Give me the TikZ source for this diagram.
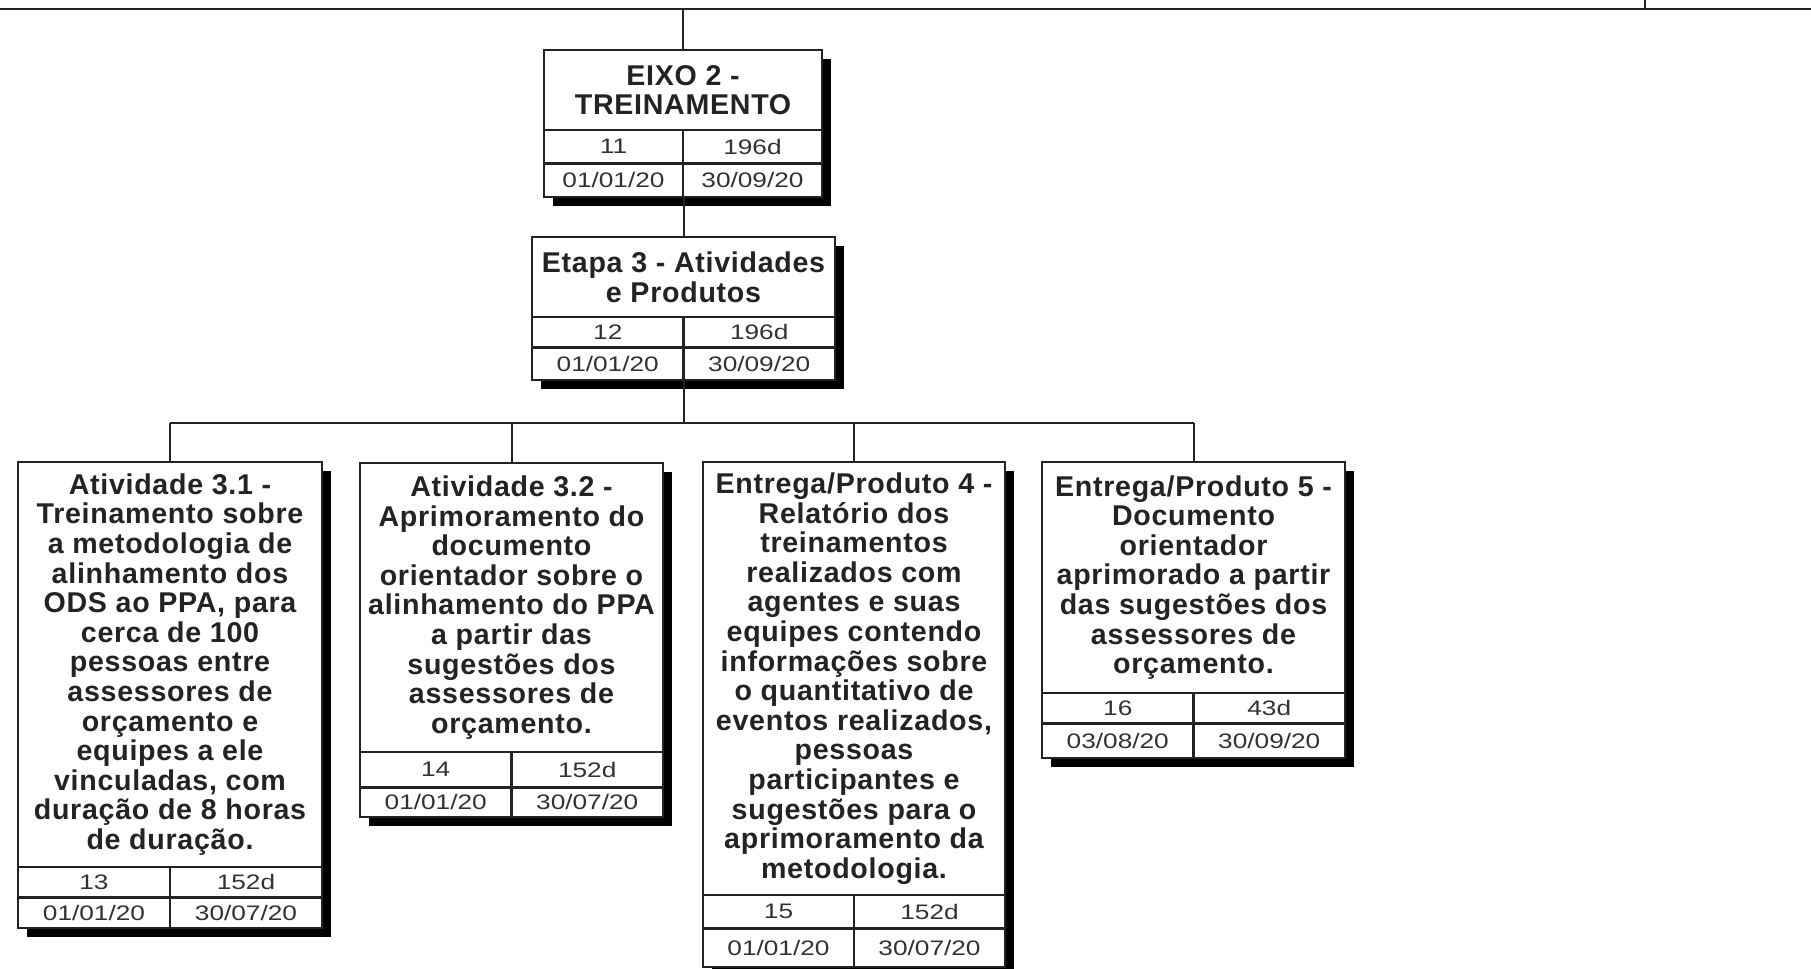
\documentclass[tikz,border=0pt]{standalone}
\usepackage{fontspec}
\setmainfont{Liberation Sans}
\newfontfamily\titlefont[LetterSpace=2.5]{Liberation Sans}
\newfontfamily\rowfont[FakeStretch=1.25]{Liberation Sans}
\definecolor{ink}{RGB}{35,35,35}
\definecolor{rowink}{RGB}{50,50,50}
\tikzset{
  conn/.style={draw=ink, line width=1pt},
  wbsframe/.style={draw=ink, fill=white, line width=1.1pt, inner sep=0pt, outer sep=0pt},
  wbsshadow/.style={fill=black},
  wbstitle/.style={align=center, text=ink, inner sep=0pt,
    font=\titlefont\fontsize{14.3}{14.8}\selectfont\bfseries},
  wbsrow/.style={text=rowink, inner sep=0pt, font=\rowfont\fontsize{10.5}{12}\selectfont},
  rowline/.style={draw=ink, line width=1.1pt},
  rowlinethick/.style={draw=ink, line width=1.5pt}
}
\newcommand{\wbsrows}[5]{%
  \draw[rowline] (\wL,\wTB) -- (\wR,\wTB);
  \draw[rowlinethick] (\wL,\wRA) -- (\wR,\wRA);
  \draw[rowline] (\wM,\wTB) -- (\wM,\wB);
  \node[wbsrow] (#1-id) at ({(\wL+\wM)/2},{(\wTB+\wRA)/2}) {#2};
  \node[wbsrow] (#1-dur) at ({(\wM+\wR)/2},{(\wTB+\wRA)/2}) {#3};
  \node[wbsrow] (#1-start) at ({(\wL+\wM)/2},{(\wRA+\wB)/2}) {#4};
  \node[wbsrow] (#1-end) at ({(\wM+\wR)/2},{(\wRA+\wB)/2}) {#5};
}
\newcommand{\wbsbox}[9]{%
  \pgfmathsetmacro\wL{#2}\pgfmathsetmacro\wT{#3}\pgfmathsetmacro\wR{#4}%
  \pgfmathsetmacro\wTB{#5}\pgfmathsetmacro\wRA{#6}\pgfmathsetmacro\wB{#7}%
  \pgfmathsetmacro\wM{(\wL+\wR)/2}%
  \fill[wbsshadow] (\wL+9,\wT+9) rectangle (\wR+9,\wB+9);
  \node[wbsframe, anchor=north west,
    minimum width={(\wR-\wL)*0.5pt}, minimum height={(\wB-\wT)*0.5pt}] (#1) at (\wL,\wT) {};
  \node[wbstitle] (#1-title) at (\wM,{(\wT+\wTB)/2}) {#8};
  \wbsrows{#1}#9
}
\begin{document}
\begin{tikzpicture}[x=0.5pt,y=-0.5pt]
\clip (0,0) rectangle (1811,969);
\fill[white] (0,0) rectangle (1811,969);
% top bar
\coordinate (topL) at (0,9);
\coordinate (topR) at (1811,9);
\coordinate (tick) at (1645,0);
\coordinate (bus) at (683,423);
\draw[conn] (topL) -- (topR);
\draw[conn] (tick) -- (tick |- topL);
% boxes
\wbsbox{eixo}{544}{50}{822}{130}{163}{197}{EIXO 2 -\\TREINAMENTO}{{11}{196d}{01/01/20}{30/09/20}}
\wbsbox{etapa}{532}{237}{835}{317}{347}{380}{Etapa 3 - Atividades\\e Produtos}{{12}{196d}{01/01/20}{30/09/20}}
\wbsbox{atvA}{18}{462}{322}{867}{897}{928}{Atividade 3.1 -\\Treinamento sobre\\a metodologia de\\alinhamento dos\\ODS ao PPA, para\\cerca de 100\\pessoas entre\\assessores de\\orçamento e\\equipes a ele\\vinculadas, com\\duração de 8 horas\\de duração.}{{13}{152d}{01/01/20}{30/07/20}}
\wbsbox{atvB}{360}{463}{663}{752}{787}{817}{Atividade 3.2 -\\Aprimoramento do\\documento\\orientador sobre o\\alinhamento do PPA\\a partir das\\sugestões dos\\assessores de\\orçamento.}{{14}{152d}{01/01/20}{30/07/20}}
\wbsbox{prodC}{703}{462}{1005}{895}{928}{967}{Entrega/Produto 4 -\\Relatório dos\\treinamentos\\realizados com\\agentes e suas\\equipes contendo\\informações sobre\\o quantitativo de\\eventos realizados,\\pessoas\\participantes e\\sugestões para o\\aprimoramento da\\metodologia.}{{15}{152d}{01/01/20}{30/07/20}}
\wbsbox{prodD}{1042}{462}{1345}{693}{723}{758}{Entrega/Produto 5 -\\Documento\\orientador\\aprimorado a partir\\das sugestões dos\\assessores de\\orçamento.}{{16}{43d}{03/08/20}{30/09/20}}
% connectors
\draw[conn] (eixo.north) -- (eixo.north |- topL);
\draw[conn] (etapa.north) -- (etapa.north |- eixo.south);
\draw[conn] (etapa.south) -- (etapa.south |- bus);
\draw[conn] (atvA.north) -- (atvA.north |- bus);
\draw[conn] (atvB.north) -- (atvB.north |- bus);
\draw[conn] (prodC.north) -- (prodC.north |- bus);
\draw[conn] (prodD.north) -- (prodD.north |- bus);
\draw[conn] (atvA.north |- bus) -- (prodD.north |- bus);
\end{tikzpicture}
\end{document}
